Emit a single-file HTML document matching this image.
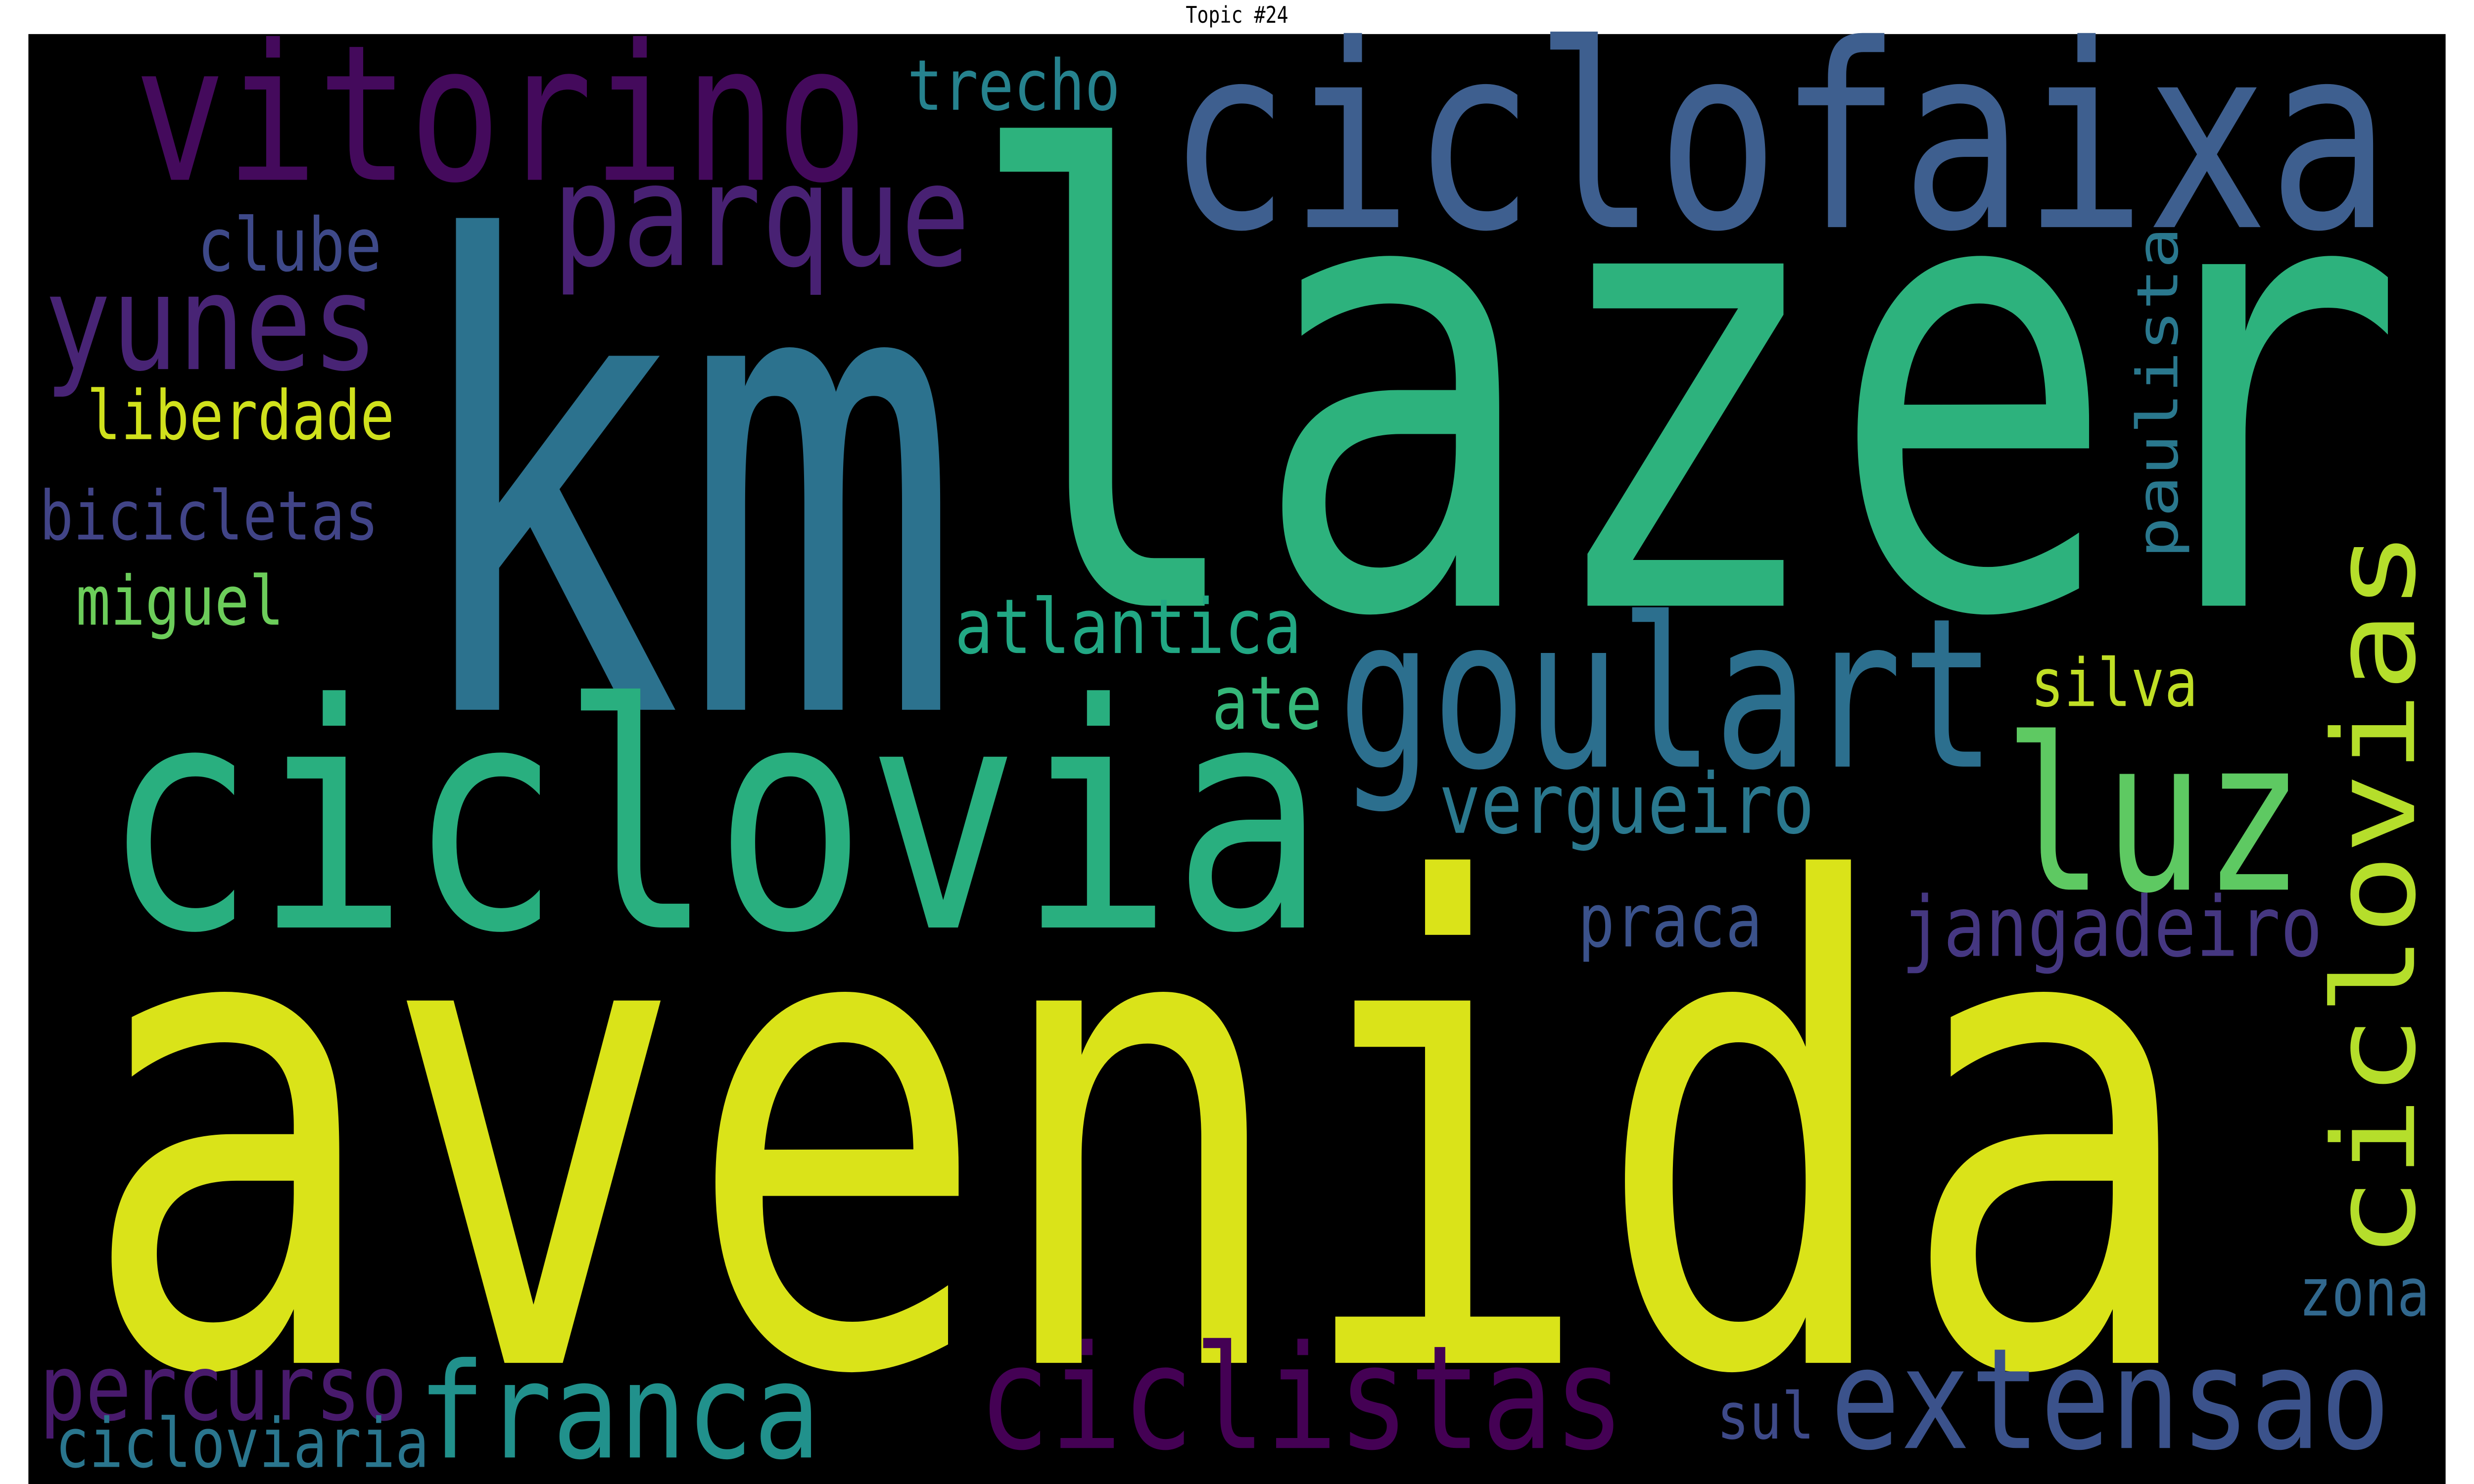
<!DOCTYPE html>
<html><head><meta charset="utf-8"><style>
html,body{margin:0;padding:0;background:#fff;width:100%;height:100%;overflow:hidden;}
svg{display:block;position:fixed;left:0;top:0;width:100vw;height:100vh;}
text{font-family:"DejaVu Sans Mono","Liberation Mono",monospace;}
</style></head><body>
<svg viewBox="0 0 1568 784" preserveAspectRatio="none" xmlns="http://www.w3.org/2000/svg">
<rect x="0" y="0" width="1568" height="784" fill="#fff"/>
<text x="784" y="12" font-size="12" text-anchor="middle" font-family="DejaVu Sans, Liberation Sans, sans-serif" fill="#000">Topic #24</text>
<rect x="18" y="18" width="1532" height="766" fill="#000"/>
<g id="words"></g>
</svg>
<script>
const words = ["km","lazer","avenida","ciclovia","ciclofaixa","vitorino","goulart","luz","parque","yunes","trecho","clube","liberdade","bicicletas","miguel","atlantica","ate","silva","vergueiro","praca","jangadeiro","zona","percurso","cicloviaria","franca","ciclistas","sul","extensao","ciclovias","paulista"];
const sizes = [342,330,350,165,135,100,110,112,75,70,37,39,36,36,36,40,39,35,44,39,44,35,48,36,70,76,34,74,72,36];
const colors = ["#2c728e","#2db27d","#dae319","#29af7f","#3e5f8f","#440a5c","#2c6f8e","#5ec962","#482173","#482475","#26828e","#3e4989","#d0e11c","#414487","#6ccd5a","#22a884","#35b779","#c0df25","#2a788e","#3b528b","#453781","#31688e","#481a6c","#2a768e","#21918c","#440154","#3e4a89","#3b528b","#b5de2b","#2a788e"];
const layout = [[255,375,355],[610,320,915],[50,720,1345],[65,490,775],[740,120,775],[85,95,465],[848,405,417],[1270,470,190],[350,140,265],[28,195,212],[575,58,135],[125,143,117],[55,232,195],[25,285,215],[48,330,132],[605,345,220],[768,385,70],[1287,373,106],[912,440,238],[1000,500,117],[1205,505,267],[1457,695,83],[25,750,233],[35,775,237],[265,770,255],[620,765,410],[1088,760,62],[1160,765,355],[1530,665,385],[1380,295,175]];
const vertical = [false,false,false,false,false,false,false,false,false,false,false,false,false,false,false,false,false,false,false,false,false,false,false,false,false,false,false,false,true,true];
const g = document.getElementById('words');
const NS = "http://www.w3.org/2000/svg";
words.forEach((w,i)=>{
  const t = document.createElementNS(NS,'text');
  const [x,y,len] = layout[i];
  t.setAttribute('x', x);
  t.setAttribute('y', y);
  t.setAttribute('font-size', sizes[i]);
  t.setAttribute('fill', colors[i]);
  t.setAttribute('textLength', len);
  t.setAttribute('lengthAdjust', 'spacingAndGlyphs');
  if (vertical[i]) t.setAttribute('transform', 'rotate(-90 '+x+' '+y+')');
  t.textContent = w;
  
  
  g.appendChild(t);
});
</script>
</body></html>
